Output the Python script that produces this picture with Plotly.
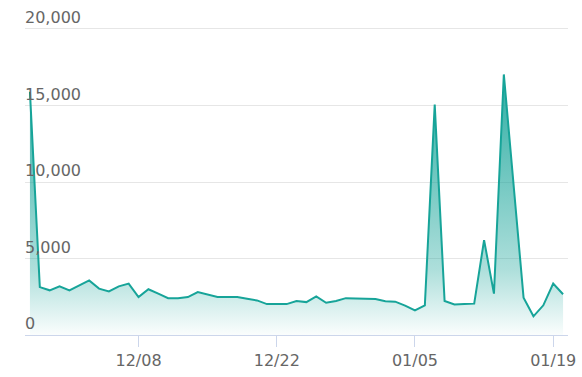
import plotly.graph_objects as go
import pandas as pd

start_date = "2019-11-27"
values = [15900, 3130, 2920, 3180, 2920, 3250, 3570, 3030, 2850, 3180,
          3360, 2480, 2990, 2700, 2410, 2400, 2480, 2810, 2640, 2480,
          2490, 2490, 2370, 2260, 2020, 2020, 2020, 2220, 2150, 2520,
          2110, 2220, 2410, 2390, 2380, 2350, 2200, 2180, 1920, 1610,
          1940, 15060, 2220, 2000, 2030, 2050, 6200, 2700, 17030, 9750,
          2440, 1220, 1940, 3360, 2660]
dates = pd.date_range(start_date, periods=len(values), freq="D")
y_ticks = [0, 5000, 10000, 15000, 20000]
y_tick_labels = ["0", "5,000", "10,000", "15,000", "20,000"]
x_tick_start = "2019-12-08"

teal = "23,164,153"

fig = go.Figure()
fig.add_trace(go.Scatter(
    x=dates, y=values, mode="lines",
    line=dict(color=f"rgb({teal})", width=2),
    fill="tozeroy",
    fillgradient=dict(
        type="vertical", start=0, stop=max(values),
        colorscale=[[0, f"rgba({teal},0.02)"],
                    [0.25, f"rgba({teal},0.35)"],
                    [1, f"rgba({teal},0.9)"]],
    ),
    hoverinfo="skip",
))

fig.update_layout(
    width=582, height=377,
    margin=dict(l=25, r=14, t=0, b=42, autoexpand=False),
    paper_bgcolor="white", plot_bgcolor="white",
    showlegend=False,
    font=dict(family="DejaVu Sans", size=16, color="#666666"),
)
fig.update_xaxes(
    range=[pd.Timestamp(start_date) - pd.Timedelta(hours=12),
           dates[-1] + pd.Timedelta(hours=12)],
    tickmode="linear", tick0=x_tick_start, dtick=14 * 86400000,
    tickformat="%m/%d", automargin=False,
    showgrid=False, zeroline=False,
    showline=True, linecolor="#ccd6eb", linewidth=1,
    ticks="outside", ticklen=11, tickcolor="#ccd6eb", tickwidth=1,
    tickfont=dict(size=16, color="#666666"),
)
fig.update_yaxes(
    range=[0, 21895], automargin=False,
    tickmode="array", tickvals=y_ticks, ticktext=y_tick_labels,
    ticklabelposition="inside top", ticklabelstandoff=-3,
    showgrid=True, gridcolor="#e6e6e6", gridwidth=1,
    zeroline=False, showline=False,
    tickfont=dict(size=16, color="#666666"),
)
fig.write_html("out.html")
